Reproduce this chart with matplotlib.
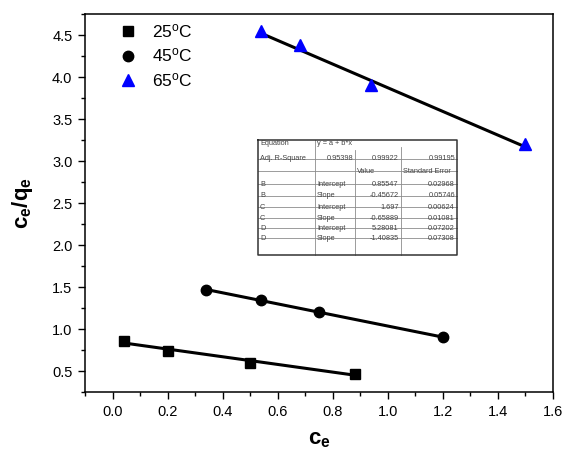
#!/usr/bin/env python3
"""Linear isotherm plot c_e/q_e vs c_e at three temperatures, with Origin-style fit table."""
import matplotlib
matplotlib.use("Agg")
import matplotlib.pyplot as plt
import numpy as np
from matplotlib.ticker import MultipleLocator

plt.rcParams["font.family"] = ["Liberation Sans", "DejaVu Sans"]
plt.rcParams["mathtext.fontset"] = "custom"
plt.rcParams["mathtext.rm"] = "Liberation Sans"
plt.rcParams["mathtext.bf"] = "Liberation Sans:bold"
plt.rcParams["mathtext.it"] = "Liberation Sans:italic"

# data
x25 = [0.04, 0.20, 0.50, 0.88]
y25 = [0.86, 0.74, 0.60, 0.47]
x45 = [0.34, 0.54, 0.75, 1.20]
y45 = [1.47, 1.345, 1.20, 0.905]
x65 = [0.54, 0.68, 0.94, 1.50]
y65 = [4.55, 4.38, 3.91, 3.20]

series_labels = [r"25$^\mathregular{o}$C", r"45$^\mathregular{o}$C", r"65$^\mathregular{o}$C"]

# fit results as printed in the table
fit_names = ["B", "C", "D"]
intercepts = [0.85547, 1.697, 5.28081]
intercept_err = [0.02968, 0.00624, 0.07202]
slopes = [-0.45672, -0.65889, -1.40835]
slope_err = [0.05746, 0.01081, 0.07308]
adj_r2 = [0.95398, 0.99922, 0.99195]

W, H = 567, 453
fig = plt.figure(figsize=(W / 100, H / 100), dpi=100)
ax = fig.add_axes([85 / W, 1 - 392.3 / H, (553 - 85) / W, (392.3 - 14) / H])

styles = [
    dict(marker="s", color="black", ms=6.5),
    dict(marker="o", color="black", ms=7.5),
    dict(marker="^", color="#0000ff", ms=8),
]
data = [(x25, y25), (x45, y45), (x65, y65)]
for (xs, ys), st, lab, a, b in zip(data, styles, series_labels, intercepts, slopes):
    xs = np.asarray(xs)
    xf = np.array([xs.min(), xs.max()])
    ax.plot(xf, a + b * xf, color="black", lw=2.2, zorder=2)
    ax.plot(xs, ys, ls="none", marker=st["marker"], color=st["color"],
            ms=st["ms"], mec=st["color"], label=lab, zorder=3)

ax.set_xlim(-0.1, 1.6)
ax.set_ylim(0.25, 4.75)
ax.xaxis.set_major_locator(MultipleLocator(0.2))
ax.xaxis.set_minor_locator(MultipleLocator(0.1))
ax.yaxis.set_major_locator(MultipleLocator(0.5))
ax.yaxis.set_minor_locator(MultipleLocator(0.25))
ax.tick_params(which="both", direction="out", top=False, right=False,
               width=1.0, labelsize=10.5, pad=4)
ax.tick_params(which="major", length=5)
ax.tick_params(which="minor", length=3)
for s in ax.spines.values():
    s.set_linewidth(1.1)

ax.set_xlabel(r"$\mathbf{c_e}$", fontsize=16, labelpad=7)
ax.set_ylabel(r"$\mathbf{c_e/q_e}$", fontsize=16, labelpad=12)

ax.legend(loc="upper left", bbox_to_anchor=(0.04, 1.02), frameon=False,
          fontsize=12.5, handletextpad=0.9, labelspacing=0.38,
          borderaxespad=0.5, handlelength=1.0)

# Origin-style parameter table
tx0, tx1, ty0, ty1 = 258, 457, 140, 255
tab = fig.add_axes([tx0 / W, 1 - ty1 / H, (tx1 - tx0) / W, (ty1 - ty0) / H])
tab.set_xlim(tx0, tx1)
tab.set_ylim(ty1, ty0)
tab.axis("off")

cols = [tx0, 315, 355, 400.7, tx1]
rows = [143.5, 158.7, 171.3, 184.0, 195.6, 207.2, 218.0, 228.0, 238.0]
fs = 5.3
gray = "#8c8c8c"

for y in rows[1:]:
    tab.plot([tx0, tx1], [y, y], color=gray, lw=0.6, clip_on=False)
tab.plot([cols[1]] * 2, [ty0, ty1], color=gray, lw=0.6, clip_on=False)
tab.plot([cols[2]] * 2, [150, ty1], color=gray, lw=0.6, clip_on=False)
tab.plot([cols[3]] * 2, [147, ty1], color=gray, lw=0.6, clip_on=False)
tab.plot([tx0, tx1, tx1, tx0, tx0], [ty0, ty0, ty1, ty1, ty0],
         color="#333333", lw=1.1, clip_on=False)

def cell(r, c, s, ha="left"):
    pad = 2
    x = cols[c] + pad if ha == "left" else cols[c + 1] - pad
    tab.text(x, rows[r], s, ha=ha, va="center", fontsize=fs, color="#444444")

cell(0, 0, "Equation")
cell(0, 1, "y = a + b*x")
cell(1, 0, "Adj. R-Square")
for j, v in enumerate(adj_r2):
    cell(1, 1 + j, f"{v:.5f}", ha="right")
cell(2, 2, "Value")
cell(2, 3, "Standard Error")
r = 3
for name, a, ae, b, be in zip(fit_names, intercepts, intercept_err, slopes, slope_err):
    cell(r, 0, name)
    cell(r, 1, "Intercept")
    cell(r, 2, f"{a:g}", ha="right")
    cell(r, 3, f"{ae:.5f}", ha="right")
    cell(r + 1, 0, name)
    cell(r + 1, 1, "Slope")
    cell(r + 1, 2, f"{b:g}", ha="right")
    cell(r + 1, 3, f"{be:.5f}", ha="right")
    r += 2

fig.savefig("out.png", dpi=100)
